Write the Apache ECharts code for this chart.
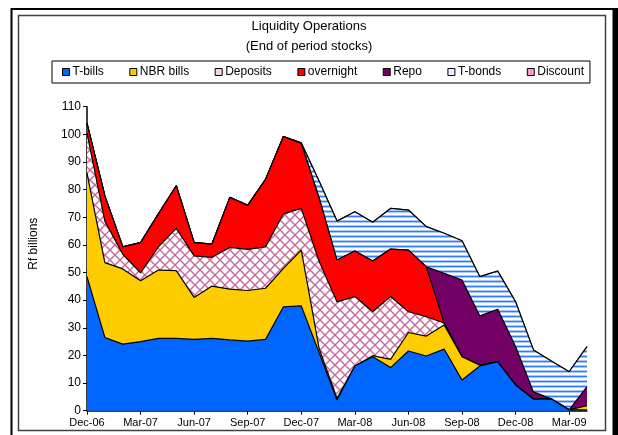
<!DOCTYPE html>
<html>
<head>
<meta charset="utf-8">
<script src="https://cdn.jsdelivr.net/npm/echarts@6/dist/echarts.min.js"></script>
<style>
  html, body { margin: 0; padding: 0; background: #fff; }
  #chart { width: 618px; height: 435px; }
</style>
</head>
<body>
<div id="chart"></div>
<script>
// months Dec-06 .. Apr-09
const months = [
  'Dec-06', 'Jan-07', 'Feb-07', 'Mar-07', 'Apr-07', 'May-07', 'Jun-07', 'Jul-07', 'Aug-07', 'Sep-07',
  'Oct-07', 'Nov-07', 'Dec-07', 'Jan-08', 'Feb-08', 'Mar-08', 'Apr-08', 'May-08', 'Jun-08', 'Jul-08',
  'Aug-08', 'Sep-08', 'Oct-08', 'Nov-08', 'Dec-08', 'Jan-09', 'Feb-09', 'Mar-09', 'Apr-09'
];

const tBills = [48.5, 26.5, 24.1, 25, 26.2, 26.2, 25.8, 26.2, 25.6, 25.2, 25.8, 37.6, 37.9, 21, 3.9,
  16.2, 19.5, 15.6, 21.6, 19.8, 22.3, 11.1, 16.2, 17.7, 9.3, 4.2, 4.2, 0.3, 0.3];
const nbrBills = [37.5, 27.1, 27.2, 22, 24.7, 24.5, 15.2, 18.9, 18.4, 18.3, 18.5, 13.9, 20.2, 1.5, 0.6,
  0, 0.4, 3, 6.7, 7.2, 8.7, 8.4, 0.3, 0, 0, 0, 0, 0, 1.5];
const deposits = [14.4, 15, 5.3, 2.9, 8.4, 15.3, 15, 10.4, 15.1, 14.9, 15, 19.7, 15.1, 31.5, 34.9,
  25.1, 15.9, 22.7, 7.5, 7, 0.8, 0, 0, 0, 0, 0, 0, 0, 0];
const overnight = [3.6, 9.1, 2.7, 10.9, 11.9, 15.4, 4.8, 4.8, 18.1, 15.9, 24.4, 28, 23.5, 23, 15.1,
  16.5, 18.4, 17.2, 22.3, 18.1, 0, 0, 0, 0, 0, 0, 0, 0, 0];
const repo = [0, 0, 0, 0, 0, 0, 0, 0, 0, 0, 0, 0, 0, 0, 0,
  0, 0, 0, 0, 0, 17.9, 27.8, 17.8, 19, 13.9, 2.6, 0.1, 0, 6.9];
const tBonds = [0, 0, 0, 0, 0, 0, 0, 0, 0, 0, 0, 0, 0.2, 6, 14.1,
  14.2, 14, 14.7, 14.5, 14.5, 14.5, 14.2, 14.2, 13.8, 16.2, 15.2, 13.7, 13.8, 14.5];
const discount = [0, 0, 0, 0, 0, 0, 0, 0, 0, 0, 0, 0, 0, 0, 0,
  0, 0, 0, 0, 0, 0, 0, 0, 0, 0, 0, 0, 0, 0];

const FONT = 'Liberation Sans, Arial, sans-serif';

// pink diagonal lattice
function crossHatch() {
  const c = document.createElement('canvas');
  c.width = 10; c.height = 10;
  const g = c.getContext('2d');
  g.fillStyle = '#fff';
  g.fillRect(0, 0, 10, 10);
  g.strokeStyle = '#C8689A';
  g.lineWidth = 1.4;
  for (const dx of [-10, 0, 10]) {
    g.beginPath();
    g.moveTo(dx, 0); g.lineTo(dx + 10, 10);
    g.moveTo(dx + 10, 0); g.lineTo(dx, 10);
    g.stroke();
  }
  return c;
}

// horizontal blue stripes
function stripes() {
  const c = document.createElement('canvas');
  c.width = 4; c.height = 5;
  const g = c.getContext('2d');
  g.fillStyle = '#fff';
  g.fillRect(0, 0, 4, 5);
  g.fillStyle = '#A6C8FF';
  g.fillRect(0, 0, 4, 1);
  g.fillRect(0, 2, 4, 1);
  g.fillStyle = '#2F7CFF';
  g.fillRect(0, 1, 4, 1);
  return c;
}

const hatchFill = { image: crossHatch(), repeat: 'repeat' };
const stripeFill = { image: stripes(), repeat: 'repeat' };

const names = ['T-bills', 'NBR bills', 'Deposits', 'overnight', 'Repo', 'T-bonds', 'Discount'];
const values = [tBills, nbrBills, deposits, overnight, repo, tBonds, discount];
const fills = ['#0066FF', '#FFCC00', hatchFill, '#FF0000', '#730064', stripeFill, '#FF99CC'];
const legendFills = ['#0066FF', '#FFCC00', '#F2D2E2', '#FF0000', '#730064', '#E4EEFF', '#FF99CC'];

const series = names.map((name, i) => ({
  name,
  type: 'line',
  stack: 'total',
  data: values[i],
  symbol: 'none',
  z: 10 - i,
  lineStyle: { color: '#000', width: 1.2 },
  itemStyle: { color: legendFills[i] },
  areaStyle: { color: fills[i], opacity: 1 },
  emphasis: { disabled: true }
}));

const chart = echarts.init(document.getElementById('chart'));
chart.setOption({
  animation: false,
  textStyle: { fontFamily: FONT },
  title: {
    text: 'Liquidity Operations\n(End of period stocks)',
    left: 'center',
    top: 11,
    textStyle: { fontFamily: FONT, fontSize: 13, fontWeight: 'normal', color: '#000', lineHeight: 20 }
  },
  legend: {
    data: names.map((n, i) => ({
      name: n,
      itemStyle: { color: legendFills[i], borderColor: '#000', borderWidth: 1 }
    })),
    icon: 'rect',
    itemWidth: 7,
    itemHeight: 7,
    itemGap: 25.5,
    top: 61,
    left: 52,
    padding: [5, 6, 5, 10],
    borderColor: '#000',
    borderWidth: 1,
    selectedMode: false,
    textStyle: { fontFamily: FONT, fontSize: 12, color: '#000', padding: [0, 0, 0, -2] }
  },
  grid: { left: 87, right: 31, top: 106.7, bottom: 24.3 },
  xAxis: {
    type: 'category',
    data: months,
    boundaryGap: false,
    axisLine: { lineStyle: { color: '#000', width: 1.5 } },
    axisTick: { interval: 2, length: 4, lineStyle: { color: '#000' } },
    axisLabel: { interval: 2, fontSize: 11, color: '#000', margin: 7 }
  },
  yAxis: {
    type: 'value',
    min: 0,
    max: 110,
    interval: 10,
    name: 'Rf billions',
    nameLocation: 'middle',
    nameGap: 47,
    nameTextStyle: { fontSize: 12, color: '#000', padding: [0, 0, 0, 30] },
    axisLine: { show: true, lineStyle: { color: '#000', width: 1.5 } },
    axisTick: { show: true, length: 4, lineStyle: { color: '#000' } },
    axisLabel: { fontSize: 12, color: '#000', margin: 6 },
    splitLine: { show: false }
  },
  graphic: [
    { type: 'rect', shape: { x: 11.5, y: 9, width: 602, height: 440 }, style: { fill: 'none', stroke: '#000', lineWidth: 2 }, z: 100 },
    { type: 'rect', shape: { x: 613, y: 8, width: 5, height: 430 }, style: { fill: '#000' }, z: 100 },
    { type: 'rect', shape: { x: 18.5, y: 15.5, width: 587, height: 415 }, style: { fill: 'none', stroke: '#404040', lineWidth: 1.5 }, z: 100 }
  ],
  series
});
</script>
</body>
</html>
